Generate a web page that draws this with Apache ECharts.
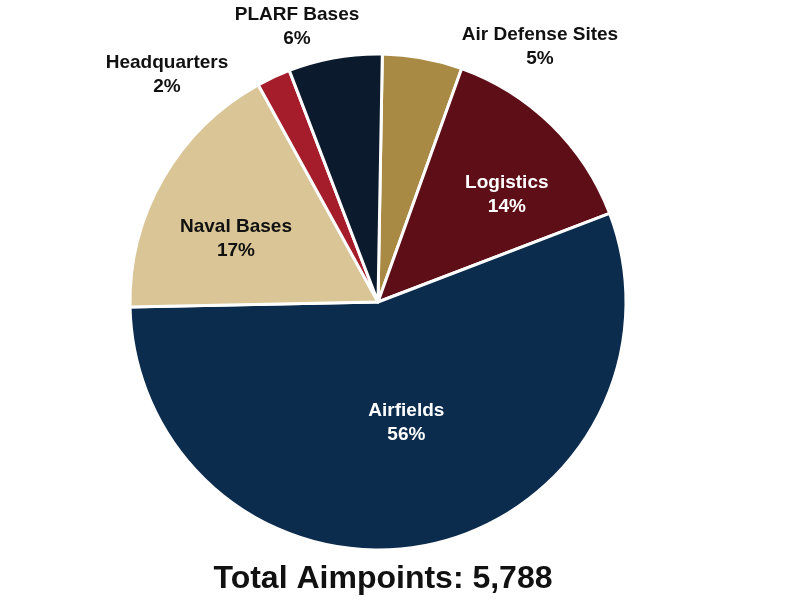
<!DOCTYPE html>
<html><head><meta charset="utf-8">
<script src="https://cdn.jsdelivr.net/npm/echarts@6/dist/echarts.min.js"></script>
<style>html,body{margin:0;background:#fff}#c{width:791px;height:606px}</style>
</head><body><div id="c"></div>
<script>
const categories = ['Air Defense Sites','Logistics','Airfields','Naval Bases','Headquarters','PLARF Bases'];
const values = [5.2,13.7,55.5,17.3,2.2,6.1];
const colors = ['#A88A44','#5E0E16','#0C2C4E','#D9C596','#A51C2B','#0B1A2C'];
const total = '5,788';
const inside = {Logistics:'#fff', Airfields:'#fff', 'Naval Bases':'#111'};
// label placement tweaks (layout only)
const labelPos = {
  'Air Defense Sites':{x:540,y:47}, 'PLARF Bases':{x:297,y:27}, 'Headquarters':{x:167,y:75},
  'Logistics':{dx:40,dy:-16}, 'Naval Bases':{dx:-32,dy:0}, 'Airfields':{dx:4,dy:-4}
};
const chart = echarts.init(document.getElementById('c'));
chart.setOption({
  animation:false,
  title:{text:'Total Aimpoints: '+total,left:378,top:558,textAlign:'center',
    textStyle:{fontFamily:'Liberation Sans',fontWeight:'bold',fontSize:32,color:'#111'}},
  series:[{
    type:'pie',center:[378,302],radius:248,startAngle:89,clockwise:true,
    itemStyle:{borderColor:'#fff',borderWidth:3},
    labelLine:{show:false,length:4,length2:0},
    labelLayout:function(p){
      const n = categories[p.dataIndex], o = labelPos[n];
      if (o.x !== undefined) return {x:o.x,y:o.y,align:'center',verticalAlign:'middle'};
      return {dx:o.dx,dy:o.dy};
    },
    data:categories.map((n,i)=>{
      const inn = inside[n];
      return {name:n,value:values[i],itemStyle:{color:colors[i]},
        label:{show:true,position:inn?'inside':'outside',
          formatter:p=>p.name+'\n'+Math.round(p.value)+'%',lineHeight:24,
          fontFamily:'Liberation Sans',fontWeight:'bold',fontSize:19,
          color:inn||'#111',align:'center'}};
    })
  }]
});
</script></body></html>
